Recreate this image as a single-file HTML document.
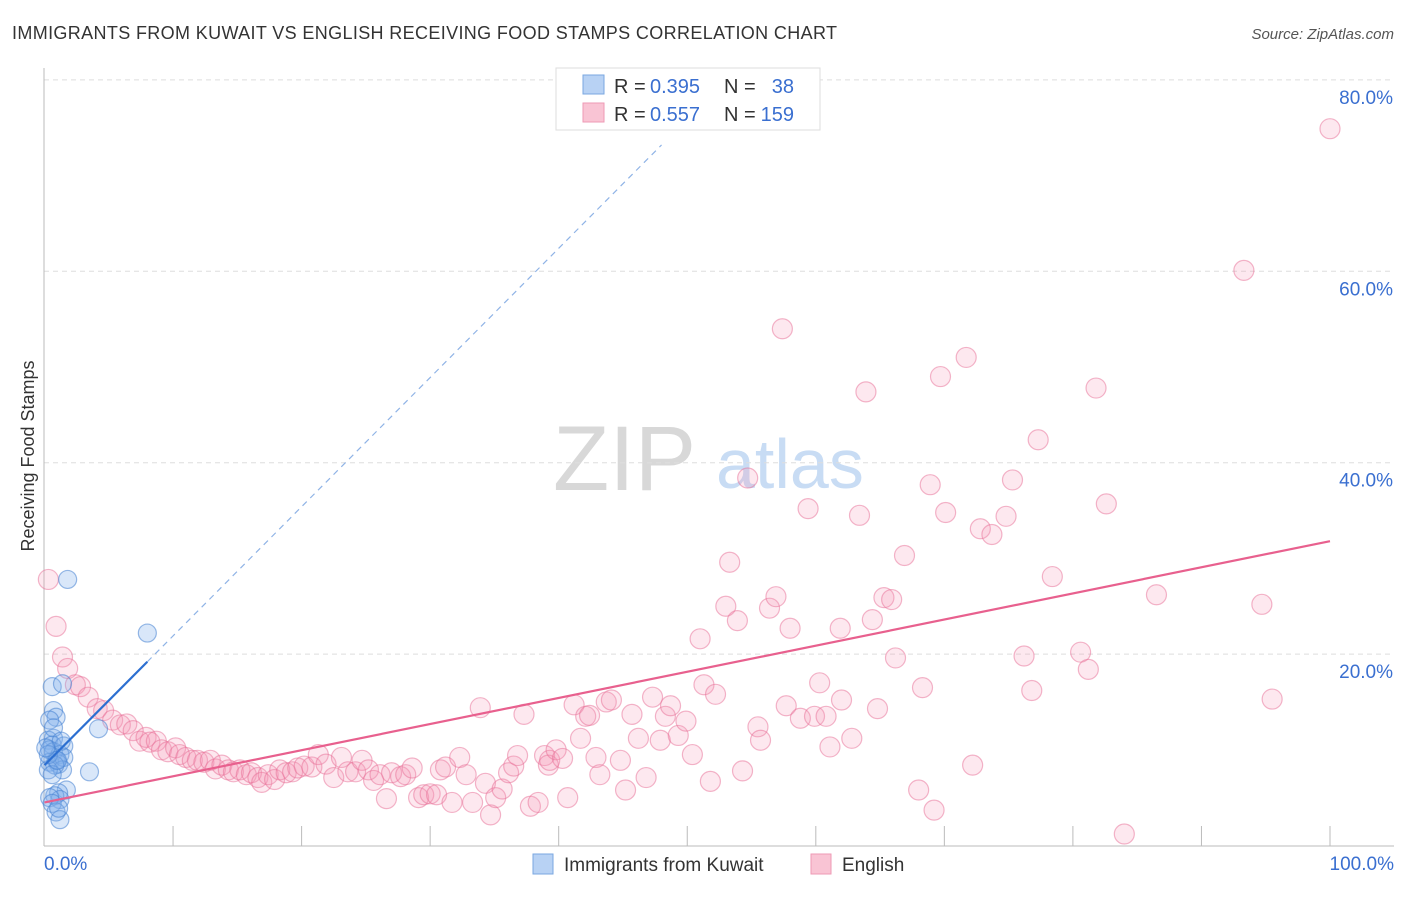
<!DOCTYPE html>
<html><head><meta charset="utf-8"><style>
body{margin:0;background:#fff;font-family:"Liberation Sans",sans-serif;}
svg text{font-family:"Liberation Sans",sans-serif;}
</style></head><body>
<svg id="chart" width="1406" height="892" xmlns="http://www.w3.org/2000/svg">
<text x="12" y="39" font-size="18" fill="#333" textLength="825">IMMIGRANTS FROM KUWAIT VS ENGLISH RECEIVING FOOD STAMPS CORRELATION CHART</text>
<text x="1394" y="39" font-size="15" fill="#555" text-anchor="end" font-style="italic">Source: ZipAtlas.com</text>
<text x="553" y="490" font-size="92" fill="#d8d8d8" font-family="Liberation Serif">ZIP</text>
<text x="716" y="488" font-size="70" fill="#c8dcf4">atlas</text>
<text transform="translate(34,456) rotate(-90)" font-size="18" fill="#333" text-anchor="middle">Receiving Food Stamps</text>
<g id="grid"></g><g id="axes"></g><g id="pts"></g><g id="lines"></g>
<g>
<rect x="556" y="68" width="264" height="62" fill="#fff" stroke="#ddd"/>
<rect x="583" y="75" width="21" height="19" fill="#b8d2f4" stroke="#7aa7e0"/>
<rect x="583" y="103" width="21" height="19" fill="#f9c4d4" stroke="#ee9ab5"/>
<text x="614" y="93" font-size="20" fill="#333">R =</text>
<text x="650" y="93" font-size="20" fill="#3a6fd0">0.395</text>
<text x="724" y="93" font-size="20" fill="#333">N =</text>
<text x="794" y="93" font-size="20" fill="#3a6fd0" text-anchor="end">38</text>
<text x="614" y="121" font-size="20" fill="#333">R =</text>
<text x="650" y="121" font-size="20" fill="#3a6fd0">0.557</text>
<text x="724" y="121" font-size="20" fill="#333">N =</text>
<text x="794" y="121" font-size="20" fill="#3a6fd0" text-anchor="end">159</text>
</g>
<g>
<rect x="533" y="854" width="20" height="20" fill="#b8d2f4" stroke="#7aa7e0"/>
<text x="564" y="871" font-size="19" fill="#333">Immigrants from Kuwait</text>
<rect x="811" y="854" width="20" height="20" fill="#f9c4d4" stroke="#ee9ab5"/>
<text x="842" y="871" font-size="19" fill="#333">English</text>
</g>
</svg>
<script>
const xTicks=[0,10,20,30,40,50,60,70,80,90,100];
const yTicks=[20,40,60,80];
const yTickLabels=["20.0%","40.0%","60.0%","80.0%"];
const blueX=[1.8,8.0,0.6,1.4,0.7,0.9,0.4,0.7,0.3,0.6,0.4,0.7,1.5,1.2,0.9,0.4,1.1,1.5,1.4,0.8,0.3,4.2,3.5,1.7,1.1,0.8,1.2,0.4,0.6,0.9,1.2,1.1,0.6,0.3,0.7,1.0,1.3,0.1];
const blueY=[27.8,22.2,16.6,16.9,14.1,13.4,13.1,11.2,11.0,10.5,10.0,9.8,10.4,9.5,8.9,8.7,8.5,9.2,7.9,8.4,7.9,12.2,7.7,5.8,5.5,5.2,4.8,5.0,4.4,3.5,2.7,3.9,7.4,9.5,12.3,8.9,10.9,10.2];
const pinkX=[0.3,0.9,1.4,1.8,2.4,2.8,3.4,4.1,4.6,5.3,5.9,6.4,6.9,7.4,7.9,8.2,8.7,9.1,9.6,10.2,10.5,11.0,11.5,11.9,12.4,12.9,13.3,13.8,14.3,14.7,15.2,15.7,16.1,16.6,16.9,17.4,17.9,18.3,18.8,19.3,19.7,20.2,20.8,21.3,21.9,22.5,23.1,23.6,24.2,24.7,25.2,25.6,26.1,26.6,27.0,27.7,28.1,28.6,29.1,29.5,30.0,30.5,30.8,31.2,31.7,32.3,32.8,33.3,33.9,34.3,34.7,35.1,35.6,36.1,36.5,36.8,37.3,37.8,38.4,38.9,39.2,39.3,39.8,40.3,40.7,41.2,41.7,42.1,42.4,42.9,43.2,43.7,44.1,44.8,45.2,45.7,46.2,46.8,47.3,47.9,48.3,48.7,49.3,49.9,50.4,51.0,51.3,51.8,52.2,53.0,53.3,53.9,54.3,55.5,55.7,56.4,56.9,57.4,57.7,58.0,58.8,59.4,59.9,60.3,60.8,61.1,61.9,62.0,62.8,63.4,63.9,64.4,64.8,65.3,65.9,66.2,66.9,68.0,68.3,68.9,69.2,69.7,70.1,71.7,72.2,72.8,73.7,74.8,75.3,76.2,76.8,77.3,78.4,80.6,81.2,81.8,82.6,84.0,86.5,93.3,94.7,95.5,100,54.7];
const pinkY=[27.8,22.9,19.7,18.5,16.8,16.6,15.5,14.3,14.1,13.1,12.6,12.7,12.0,10.9,11.3,10.8,10.9,10.0,9.8,10.2,9.5,9.2,8.9,8.9,8.7,8.9,8.0,8.4,7.9,7.7,7.9,7.4,7.6,7.1,6.6,7.4,6.9,7.9,7.6,7.7,8.1,8.3,8.2,9.5,8.5,7.1,9.2,7.7,7.7,8.9,7.9,6.8,7.4,4.9,7.6,7.2,7.4,8.1,5.0,5.3,5.4,5.3,7.9,8.2,4.5,9.2,7.4,4.5,14.4,6.5,3.2,5.0,5.9,7.6,8.3,9.4,13.7,4.1,4.5,9.4,8.4,8.9,10.0,9.1,5.0,14.7,11.2,13.5,13.6,9.2,7.4,15.0,15.2,8.9,5.8,13.7,11.2,7.1,15.5,11.0,13.5,14.6,11.5,13.0,9.5,21.6,16.8,6.7,15.8,25.0,29.6,23.5,7.8,12.4,11.0,24.8,26.0,54.0,14.6,22.7,13.3,35.2,13.5,17.0,13.5,10.3,22.7,15.2,11.2,34.5,47.4,23.6,14.3,25.9,25.7,19.6,30.3,5.8,16.5,37.7,3.7,49.0,34.8,51.0,8.4,33.1,32.5,34.4,38.2,19.8,16.2,42.4,28.1,20.2,18.4,47.8,35.7,1.2,26.2,60.1,25.2,15.3,74.9,38.4];
const blueFit=[8.4,1.35];   // intercept, slope
const pinkFit=[4.5,0.273];

const X0=44.5,XS=12.855,Y0=845.5,YS=9.57;
const sx=v=>X0+v*XS, sy=v=>Y0-v*YS;
const NS="http://www.w3.org/2000/svg";
function mk(tag,parent,attrs){const e=document.createElementNS(NS,tag);for(const k in attrs)e.setAttribute(k,attrs[k]);document.getElementById(parent).appendChild(e);return e;}

yTicks.forEach((t,i)=>{
  const g=mk('line','grid',{x1:44,x2:1394,y1:sy(t),y2:sy(t),stroke:'#ddd','stroke-dasharray':'5,4'});
  
  
  const l=mk('text','axes',{x:1393,y:sy(t)+24,'font-size':19,fill:'#3a6fd0','text-anchor':'end'});
  l.textContent=yTickLabels[i];
  
  
});
const ax=mk('line','axes',{x1:44,x2:44,y1:68,y2:846,stroke:'#bbb'});


const bx=mk('line','axes',{x1:44,x2:1394,y1:846,y2:846,stroke:'#bbb'});


xTicks.forEach(t=>{
  if(t===0)return;
  const tk=mk('line','axes',{x1:sx(t),x2:sx(t),y1:826,y2:846,stroke:'#bbb'});
  
  
});
const xl0=mk('text','axes',{x:44,y:870,'font-size':19,fill:'#3a6fd0'});xl0.textContent='0.0%';


const xl1=mk('text','axes',{x:1394,y:870,'font-size':19,fill:'#3a6fd0','text-anchor':'end'});xl1.textContent='100.0%';



pinkX.forEach((x,i)=>{
  const c=mk('circle','pts',{cx:sx(x),cy:sy(pinkY[i]),r:10,fill:'rgba(244,150,180,0.22)',stroke:'rgba(232,110,150,0.5)','stroke-width':1.2});
  
  
});
blueX.forEach((x,i)=>{
  const c=mk('circle','pts',{cx:sx(x),cy:sy(blueY[i]),r:9,fill:'rgba(130,175,235,0.3)',stroke:'rgba(70,130,210,0.55)','stroke-width':1.2});
  
  
});
const pl=mk('line','lines',{x1:sx(0),y1:sy(pinkFit[0]),x2:sx(100),y2:sy(pinkFit[0]+pinkFit[1]*100),stroke:'#e8608e','stroke-width':2.2});


const bl=mk('line','lines',{x1:sx(0),y1:sy(blueFit[0]),x2:sx(8),y2:sy(blueFit[0]+blueFit[1]*8),stroke:'#2c6fd1','stroke-width':2.2});


const bd=mk('line','lines',{x1:sx(8),y1:sy(blueFit[0]+blueFit[1]*8),x2:sx(48),y2:sy(blueFit[0]+blueFit[1]*48),stroke:'#8fb3e6','stroke-width':1.2,'stroke-dasharray':'6,5'});


</script>
</body></html>
